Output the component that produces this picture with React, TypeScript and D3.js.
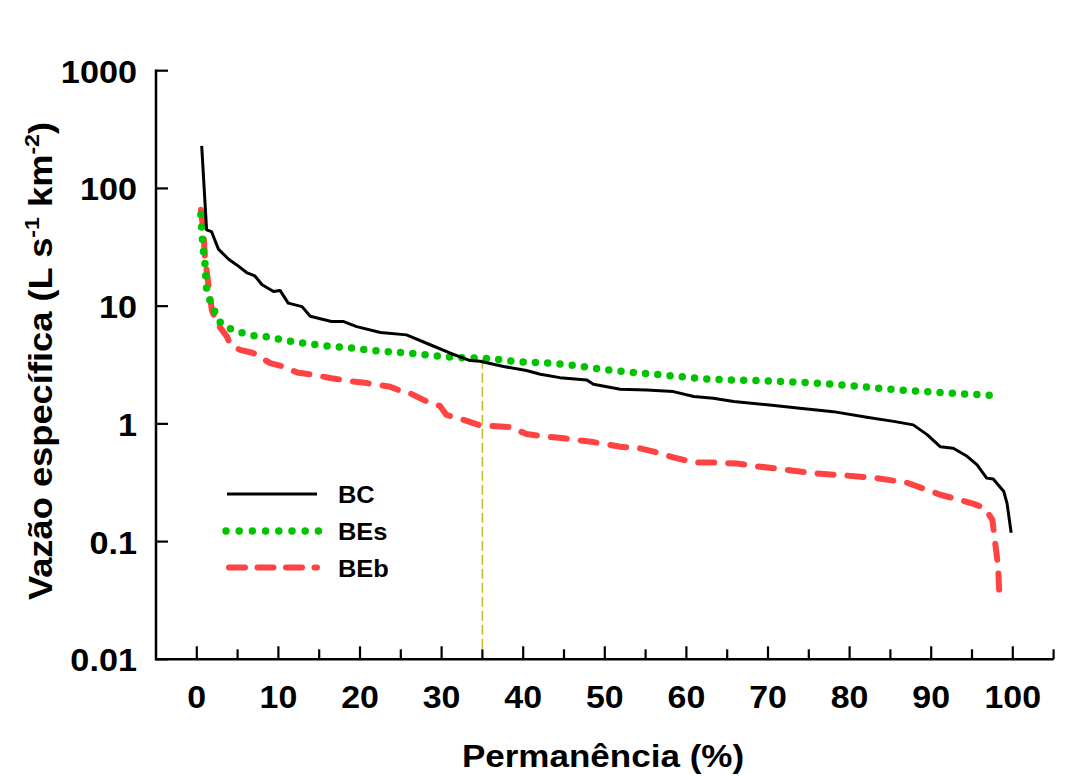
import React from "react";
import * as d3 from "d3";

// ---- Data ----
const bcPerm = [0.6, 1.2, 1.8, 2.65, 3.9, 4.9, 6.1, 7.1, 8.0, 9.4, 10.2, 11.2, 12.9, 13.9, 16.5, 18.0, 19.6, 22.5, 25.7, 28.6, 31.0, 33.5, 34.7, 37.6, 40.4, 42.1, 44.5, 47.8, 48.6, 51.9, 55.1, 58.4, 60.9, 63.3, 65.8, 69.9, 73.9, 78.0, 82.1, 85.4, 87.8, 89.5, 91.1, 92.7, 94.4, 95.6, 96.8, 97.6, 98.9, 99.3, 99.8];
const bcVals = [230, 44.5, 43, 30.5, 25, 22.4, 19.3, 18.1, 15.2, 13.3, 13.6, 10.6, 9.9, 8.2, 7.4, 7.4, 6.7, 5.97, 5.7, 4.7, 4.0, 3.45, 3.4, 3.07, 2.84, 2.64, 2.47, 2.36, 2.17, 1.97, 1.94, 1.88, 1.71, 1.65, 1.55, 1.45, 1.36, 1.27, 1.14, 1.05, 0.98, 0.81, 0.64, 0.62, 0.53, 0.45, 0.346, 0.34, 0.266, 0.21, 0.119];

const besPerm = [0.5, 0.8, 1.0, 1.2, 1.6, 2.2, 2.8, 4.0, 5.4, 6.9, 8.5, 10, 13, 15.9, 19, 22, 25.1, 28, 31, 33.9, 36.8, 38.4, 44.5, 50.6, 56.8, 62.9, 69.9, 78, 86.2, 92.7, 98.6];
const besVals = [60, 30, 23, 14.2, 11.3, 9.0, 7.4, 6.5, 5.97, 5.63, 5.5, 5.25, 4.85, 4.6, 4.4, 4.17, 4.03, 3.86, 3.69, 3.62, 3.54, 3.43, 3.23, 2.86, 2.61, 2.4, 2.32, 2.17, 1.94, 1.82, 1.73];

const bebPerm = [0.5, 0.8, 1.0, 1.4, 1.84, 2.45, 3.7, 4.1, 5.3, 6.9, 9.0, 10.6, 12.3, 14.3, 16.5, 19.2, 20.8, 23.7, 24.7, 26.1, 28.2, 29.8, 30.6, 32.7, 34.7, 37.2, 38.4, 40.4, 42.1, 45.3, 48.6, 51.9, 54.3, 56, 58.4, 60.9, 63.3, 66.2, 68.2, 71.9, 75.6, 79.6, 83.3, 87, 89.5, 91.1, 93.5, 95.2, 96.6, 97.5, 97.8, 98.2, 98.4];
const bebVals = [66, 44.5, 26, 15.7, 9.3, 7.2, 5.5, 4.7, 4.25, 4.0, 3.28, 3.07, 2.73, 2.61, 2.44, 2.29, 2.22, 2.07, 1.94, 1.82, 1.55, 1.42, 1.19, 1.08, 0.97, 0.95, 0.94, 0.82, 0.79, 0.75, 0.70, 0.64, 0.62, 0.58, 0.52, 0.47, 0.47, 0.46, 0.44, 0.41, 0.38, 0.364, 0.346, 0.317, 0.275, 0.25, 0.226, 0.209, 0.192, 0.153, 0.103, 0.061, 0.030];

const refPerm = 35;
const refValue = 3.58;

const xMajorTicks = [0, 10, 20, 30, 40, 50, 60, 70, 80, 90, 100];
const xMinorTicks = [5, 15, 25, 35, 45, 55, 65, 75, 85, 95, 105];
const yTicks = [0.01, 0.1, 1, 10, 100, 1000];
const yTickLabels = ["0.01", "0.1", "1", "10", "100", "1000"];

const seriesNames = ["BC", "BEs", "BEb"];

// ---- Layout ----
const W = 1071;
const H = 776;
const FONT = "'Liberation Sans', Arial, Helvetica, sans-serif";

export default function App() {
  const x = d3.scaleLinear().domain([-5, 105]).range([156, 1053.6]);
  const y = d3.scaleLog().domain([0.01, 1000]).range([659.3, 70.7]);

  const line = d3
    .line<[number, number]>()
    .x((d) => x(d[0]))
    .y((d) => y(d[1]))
    .curve(d3.curveLinear);
  const smooth = d3
    .line<[number, number]>()
    .x((d) => x(d[0]))
    .y((d) => y(d[1]))
    .curve(d3.curveMonotoneX);

  const bc = bcPerm.map((p, i) => [p, bcVals[i]] as [number, number]);
  const bes = besPerm.map((p, i) => [p, besVals[i]] as [number, number]);
  const beb = bebPerm.map((p, i) => [p, bebVals[i]] as [number, number]);

  const x0 = x.range()[0];
  const x1 = x.range()[1];
  const yb = y.range()[0];
  const yt = y.range()[1];

  const black = "#000000";
  const green = "#00c400";
  const red = "#ff4242";

  const legendX0 = 227;
  const legendX1 = 317;
  const legendYs = [494, 531, 567.5];

  return (
    <svg
      width={W}
      height={H}
      style={{ position: "absolute", left: 0, top: 0, background: "#ffffff" }}
      fontFamily={FONT}
      fontWeight="bold"
    >
      <rect x={0} y={0} width={W} height={H} fill="#ffffff" />

      {/* reference line */}
      <line
        x1={x(refPerm)}
        x2={x(refPerm)}
        y1={y(refValue)}
        y2={yb}
        stroke="#c8bc2c"
        strokeWidth={1.6}
        strokeDasharray="10,4"
      />

      {/* series */}
      <path d={line(beb) || ""} fill="none" stroke={red} strokeWidth={6} strokeDasharray="16,14" strokeLinecap="round" strokeLinejoin="round" />
      <path d={smooth(bes) || ""} fill="none" stroke={green} strokeWidth={7.5} strokeDasharray="0,12.3" strokeLinecap="round" />
      <path d={line(bc) || ""} fill="none" stroke={black} strokeWidth={3} strokeLinejoin="round" />

      {/* axes */}
      <line x1={x0} x2={x1} y1={yb} y2={yb} stroke="#000" strokeWidth={2.5} />
      <line x1={x0} x2={x0} y1={yb + 1.2} y2={yt - 1.2} stroke="#000" strokeWidth={2.5} />
      {xMajorTicks.map((t) => (
        <line key={"xM" + t} x1={x(t)} x2={x(t)} y1={yb} y2={yb - 13} stroke="#000" strokeWidth={2.2} />
      ))}
      {xMinorTicks.map((t) => (
        <line key={"xm" + t} x1={x(t)} x2={x(t)} y1={yb} y2={yb - 10} stroke="#000" strokeWidth={2.2} />
      ))}
      {yTicks.map((t) => (
        <line key={"y" + t} x1={x0} x2={x0 + 12} y1={y(t)} y2={y(t)} stroke="#000" strokeWidth={2.2} />
      ))}

      {/* tick labels */}
      {xMajorTicks.map((t) => (
        <text key={"xl" + t} transform={`translate(${x(t)},708) scale(1.06,1)`} textAnchor="middle" fontSize={32}>
          {String(t)}
        </text>
      ))}
      {yTicks.map((t, i) => (
        <text key={"yl" + t} transform={`translate(137,${y(t) + 12}) scale(1.07,1)`} textAnchor="end" fontSize={32}>
          {yTickLabels[i]}
        </text>
      ))}

      {/* axis titles */}
      <text transform="translate(603,767) scale(1.13,1)" textAnchor="middle" fontSize={31}>
        Permanência (%)
      </text>
      <text transform="translate(51.5,361) rotate(-90) scale(1.1,1)" textAnchor="middle" fontSize={33}>
        Vazão específica (L s
        <tspan fontSize={21} dy={-13}>-1</tspan>
        <tspan dy={13}> km</tspan>
        <tspan fontSize={21} dy={-13}>-2</tspan>
        <tspan dy={13}>)</tspan>
      </text>

      {/* legend */}
      <line x1={legendX0} x2={legendX1} y1={legendYs[0]} y2={legendYs[0]} stroke={black} strokeWidth={3} />
      <line x1={legendX0 - 1} x2={legendX1 + 4} y1={legendYs[1]} y2={legendYs[1]} stroke={green} strokeWidth={7.5} strokeDasharray="0,13.2" strokeLinecap="round" />
      <line x1={legendX0 + 2} x2={legendX1} y1={legendYs[2]} y2={legendYs[2]} stroke={red} strokeWidth={6} strokeDasharray="16,12.5" strokeLinecap="round" />
      {seriesNames.map((n, i) => (
        <text key={n} transform={`translate(338,${legendYs[i] + 9}) scale(1.06,1)`} fontSize={24}>
          {n}
        </text>
      ))}
    </svg>
  );
}
